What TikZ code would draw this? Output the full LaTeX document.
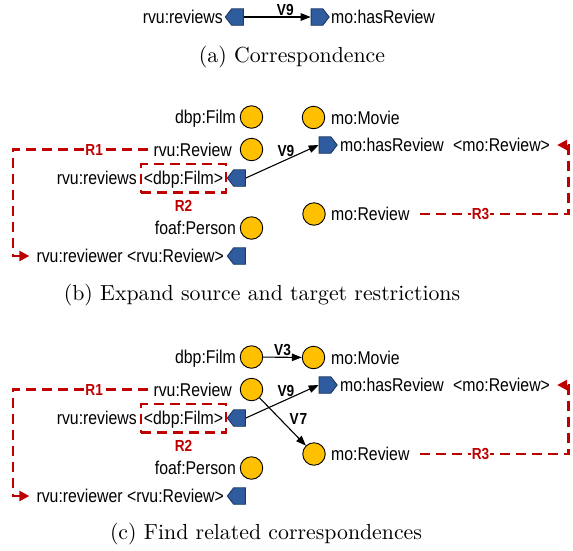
\documentclass[tikz,border=0pt]{standalone}
\usepackage{fontspec}
\newfontfamily\labfont[FakeStretch=0.855]{Liberation Sans}
\newfontfamily\capfont{lmroman10-regular}[Extension=.otf]
\usetikzlibrary{shapes.symbols,arrows.meta}
\definecolor{cyel}{HTML}{FFC000}
\definecolor{cblue}{HTML}{2E5C9E}
\definecolor{cnavy}{HTML}{1F3864}
\definecolor{cred}{HTML}{C00000}
\tikzset{
 cls/.style={circle,draw=black,line width=0.9pt,fill=cyel,minimum size=22.5pt,inner sep=0},
 prop/.style={signal,draw=cnavy,line width=0.9pt,fill=cblue,minimum width=18pt,minimum height=16.5pt,inner sep=0,signal pointer angle=105},
 lbl/.style={font=\labfont\fontsize{18.5}{20}\selectfont,inner sep=0,text height=13pt,text depth=0pt},
 vlab/.style={font=\labfont\bfseries\fontsize{16}{17}\selectfont,inner sep=1pt},
 rlab/.style={vlab,text=cred,fill=white},
 corr/.style={line width=1.1pt,-{Triangle[length=10pt,width=7.5pt]}},
 rdash/.style={draw=cred,line width=2.4pt,dash pattern=on 10pt off 6pt},
 rarrow/.style={rdash,-{Triangle[length=10pt,width=10pt]}},
 captxt/.style={font=\capfont\fontsize{21.8}{26}\selectfont,inner sep=0},
}
\begin{document}
\begin{tikzpicture}[x=1pt,y=-1pt]
\useasboundingbox (0,0) rectangle (573,550);
% ---------- (a)
\node[prop,signal to=west] (a-src) at (237.5,17) {};
\node[prop,signal to=east] (a-tgt) at (317,17) {};
\node[lbl,anchor=east] (a-srcT) at (223,17) {rvu:reviews};
\node[lbl,anchor=west] (a-tgtT) at (331,17) {mo:hasReview};
\draw[corr] (a-src.east) -- node[vlab,above=0pt,pos=0.62]{V9} (a-tgt.west);
\node[captxt] (capa) at (292,57) {(a) Correspondence};
% ---------- (b)
\node[cls] (b-film) at (251.5,117) {};
\node[cls] (b-rvrev) at (251.5,149.5) {};
\node[cls] (b-person) at (251.5,228) {};
\node[cls] (b-movie) at (313.5,117.5) {};
\node[cls] (b-moreview) at (314,214) {};
\node[prop,signal to=west] (b-reviews) at (239.5,178) {};
\node[prop,signal to=west] (b-reviewer) at (239.5,256) {};
\node[prop,signal to=east] (b-hasrev) at (325,145) {};
\node[lbl,anchor=east] (b-filmT) at (236,117) {dbp:Film};
\node[lbl,anchor=east] (b-rvrevT) at (232,149.5) {rvu:Review};
\node[lbl,anchor=east] (b-reviewsT) at (137,178) {rvu:reviews};
\node[lbl,rdash,draw,minimum width=85pt,minimum height=28.5pt] (b-r2) at (183.5,178.3) {<dbp:Film>};
\node[rlab,fill=none] (b-r2l) at ([yshift=-12pt]b-r2.south) {R2};
\node[lbl,anchor=east] (b-personT) at (236,228) {foaf:Person};
\node[lbl,anchor=east] (b-reviewerT) at (224,256) {rvu:reviewer <rvu:Review>};
\node[lbl,anchor=west] (b-movieT) at (331,117.5) {mo:Movie};
\node[lbl,anchor=west] (b-hasrevT) at (340,145) {mo:hasReview\hspace{9.3pt}<mo:Review>};
\node[lbl,anchor=west] (b-moreviewT) at (331,214) {mo:Review};
\draw[corr] (b-reviews.east) -- node[vlab,above=2pt,pos=0.55]{V9} (b-hasrev.west);
\coordinate (b-r1a) at (13,149.5);
\coordinate (b-r1b) at (13,256);
\draw[rarrow] ([xshift=-5pt]b-rvrevT.west) -- node[rlab,pos=0.4]{R1} (b-r1a) -- (b-r1b) -- ([xshift=-7pt]b-reviewerT.west);
\coordinate (b-r3a) at (568.3,214);
\coordinate (b-r3b) at (568.3,145);
\draw[rarrow] ([xshift=10pt]b-moreviewT.east) -- node[rlab,pos=0.41]{R3} (b-r3a) -- (b-r3b) -- ([xshift=7pt]b-hasrevT.east);
\node[captxt] (capb) at (262,295) {(b) Expand source and target restrictions};
% ---------- (c)
\node[cls] (c-film) at (251.5,357) {};
\node[cls] (c-rvrev) at (251.5,389.5) {};
\node[cls] (c-person) at (251.5,468) {};
\node[cls] (c-movie) at (313.5,357.5) {};
\node[cls] (c-moreview) at (314,454) {};
\node[prop,signal to=west] (c-reviews) at (239.5,418) {};
\node[prop,signal to=west] (c-reviewer) at (239.5,496) {};
\node[prop,signal to=east] (c-hasrev) at (325,385) {};
\node[lbl,anchor=east] (c-filmT) at (236,357) {dbp:Film};
\node[lbl,anchor=east] (c-rvrevT) at (232,389.5) {rvu:Review};
\node[lbl,anchor=east] (c-reviewsT) at (137,418) {rvu:reviews};
\node[lbl,rdash,draw,minimum width=85pt,minimum height=28.5pt] (c-r2) at (183.5,418.3) {<dbp:Film>};
\node[rlab,fill=none] (c-r2l) at ([yshift=-12pt]c-r2.south) {R2};
\node[lbl,anchor=east] (c-personT) at (236,468) {foaf:Person};
\node[lbl,anchor=east] (c-reviewerT) at (224,496) {rvu:reviewer <rvu:Review>};
\node[lbl,anchor=west] (c-movieT) at (331,357.5) {mo:Movie};
\node[lbl,anchor=west] (c-hasrevT) at (340,385) {mo:hasReview\hspace{9.3pt}<mo:Review>};
\node[lbl,anchor=west] (c-moreviewT) at (331,454) {mo:Review};
\draw[corr] (c-reviews.east) -- node[vlab,above=2pt,pos=0.55]{V9} (c-hasrev.west);
\draw[corr] (c-film) -- node[vlab,above=0pt]{V3} (c-movie);
\draw[corr] (c-rvrev) -- node[vlab,anchor=south west,pos=0.55,xshift=3pt,yshift=-2pt]{V\kern1pt7} (c-moreview);
\coordinate (c-r1a) at (13,389.5);
\coordinate (c-r1b) at (13,496);
\draw[rarrow] ([xshift=-5pt]c-rvrevT.west) -- node[rlab,pos=0.4]{R1} (c-r1a) -- (c-r1b) -- ([xshift=-7pt]c-reviewerT.west);
\coordinate (c-r3a) at (568.3,454);
\coordinate (c-r3b) at (568.3,385);
\draw[rarrow] ([xshift=10pt]c-moreviewT.east) -- node[rlab,pos=0.41]{R3} (c-r3a) -- (c-r3b) -- ([xshift=7pt]c-hasrevT.east);
\node[captxt] (capc) at (266,534) {(c) Find related correspondences};
\end{tikzpicture}
\end{document}
